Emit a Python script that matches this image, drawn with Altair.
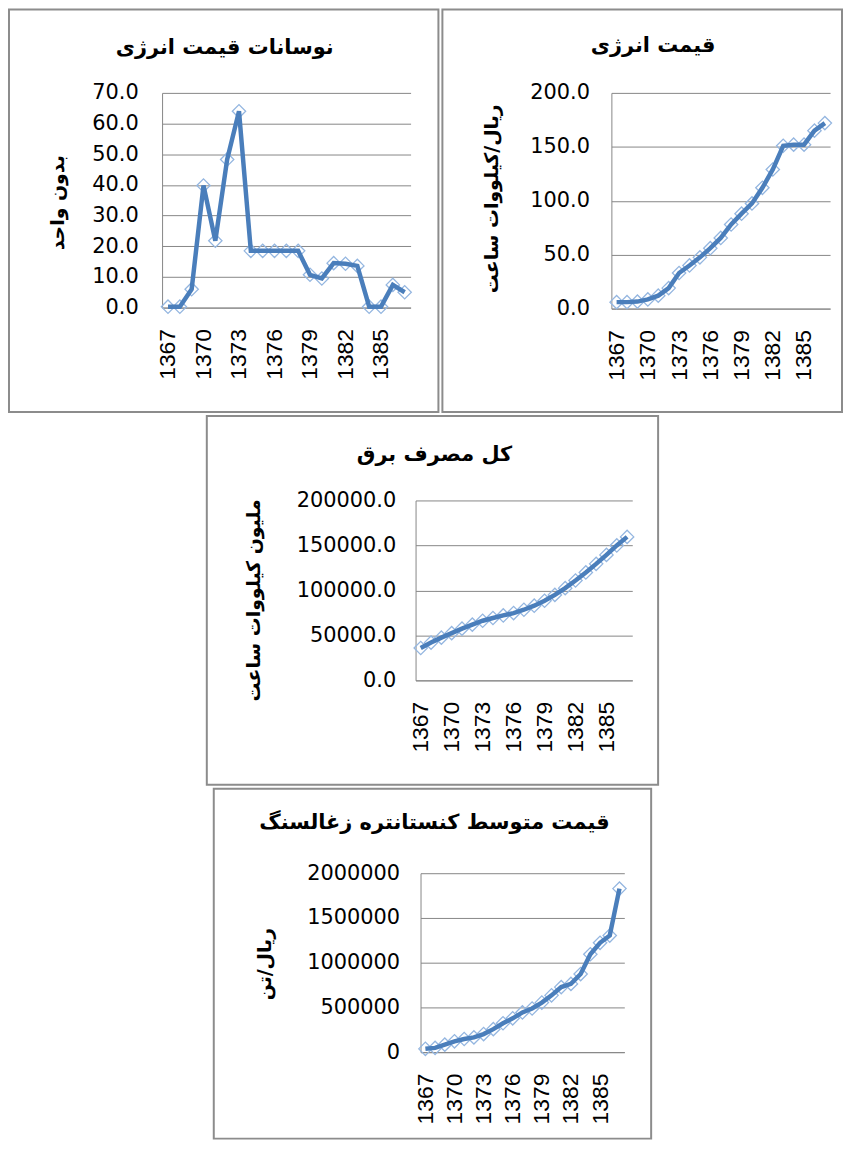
import altair as alt
import pandas as pd

years = list(range(1367, 1388))
year_ticks = [1367, 1370, 1373, 1376, 1379, 1382, 1385]

# نوسانات قیمت انرژی (بدون واحد)
fluctuation = [0.3, 0.3, 6.0, 39.8, 21.8, 48.3, 64.0, 18.5, 18.5, 18.5, 18.5,
               18.5, 10.7, 9.5, 14.5, 14.3, 13.6, 0.3, 0.3, 7.4, 5.0]
# قیمت انرژی (ریال/کیلووات ساعت)
energy_price = [6, 6, 6.5, 8.5, 12, 19, 33, 40, 47.5, 56, 65.5, 78, 88, 97.5,
                112, 129, 151, 152, 152, 165, 172]
# کل مصرف برق (میلیون کیلووات ساعت)
consumption = [36000, 42000, 47500, 52500, 57500, 62000, 66300, 69300, 72200,
               74800, 78500, 83000, 88500, 95000, 102500, 111000, 120000,
               129500, 139500, 150000, 159500]
# قیمت متوسط کنستانتره زغالسنگ (ریال/تن)
coal_price = [37000, 48000, 84000, 121000, 147000, 165000, 202000, 257000,
              323000, 378000, 444000, 488000, 554000, 635000, 727000, 763000,
              873000, 1094000, 1222000, 1303000, 1828000]

LINE = "#4A7EBB"
MARK = "#94B6E0"
GRID = "#868686"
BORDER = "#8C8C8C"
NUMFONT = "Liberation Sans"
YFONT = "DejaVu Sans"
FAFONT = "DejaVu Sans"


def panel(values, title, ytitle, ymax, ystep, yfmt, W, H, plot, title_y,
          title_dx, ytitle_xy, ylabel_pad):
    left, right, top, bottom = plot
    df = pd.DataFrame({"year": years, "value": values})
    x = alt.X(
        "year:O",
        scale=alt.Scale(type="point", padding=0.5, range=[left, right]),
        axis=alt.Axis(
            values=year_ticks, labelAngle=-90, offset=bottom - H, title=None,
            grid=False, ticks=False, labelFont=NUMFONT, labelFontSize=23,
            labelColor="black", labelPadding=21, labelOverlap=False,
            domainColor=GRID, domainWidth=1,
        ),
    )
    y = alt.Y(
        "value:Q",
        scale=alt.Scale(domain=[0, ymax], range=[bottom, top], nice=False),
        axis=alt.Axis(
            values=list(range(0, ymax + 1, ystep)), format=yfmt, offset=-left,
            grid=True, gridColor=GRID, gridWidth=1, ticks=False,
            domainColor=GRID, domainWidth=1, labelFont=YFONT,
            labelFontSize=21, labelColor="black", labelPadding=ylabel_pad,
            title=ytitle, titleFont=FAFONT, titleFontSize=19,
            titleFontWeight="bold", titleColor="black", titleAngle=-90,
            titleX=ytitle_xy[0] - left, titleY=ytitle_xy[1],
            titleAlign="center", titleBaseline="middle",
        ),
    )
    base = alt.Chart(df)
    pts = base.mark_point(shape="diamond", size=180, filled=False,
                          color=MARK, strokeWidth=1.3, opacity=1).encode(x=x, y=y)
    line = base.mark_line(color=LINE, strokeWidth=4.5).encode(x=x, y=y)
    return alt.layer(pts, line).properties(
        width=W, height=H,
        title=alt.TitleParams(
            text=title, font=FAFONT, fontSize=21, fontWeight="bold",
            color="black", anchor="middle", baseline="middle",
            offset=-(title_y + 1), dx=title_dx,
        ),
        view=alt.ViewBackground(stroke=BORDER, strokeWidth=2, fill="white"),
    )


def spacer(w, h):
    return alt.Chart(pd.DataFrame({"a": [0]})).mark_point(
        opacity=0, size=0
    ).encode(
        x=alt.value(1), y=alt.value(1)
    ).properties(width=w, height=h, view=alt.ViewBackground(stroke=None))


p1 = panel(fluctuation, "نوسانات قیمت انرژی", "بدون واحد", 70, 10, ".1f",
           432, 405, (154, 404, 84, 300), 59, 1, (48.5, 194), 24)
p2 = panel(energy_price, "قیمت انرژی", "ریال/کیلووات ساعت", 200, 50, ".1f",
           402, 405, (170, 390, 84, 301), 57, 11, (49, 190), 22)
p3 = panel(consumption, "کل مصرف برق", "ملیون کیلووات ساعت", 200000, 50000,
           ".1f", 454, 371, (210, 428, 85, 266), 59, 2, (47, 185), 20)
p4 = panel(coal_price, "قیمت متوسط کنستانتره زغالسنگ", "ریال/تن", 2000000,
           500000, "d", 440, 352, (208, 413, 85, 265), 55, 2, (51, 176), 21)

row1 = alt.hconcat(spacer(1, 405), p1, spacer(2, 405), p2, spacing=0)
row2 = alt.hconcat(spacer(200, 371), p3, spacing=0)
row3 = alt.hconcat(spacer(207, 352), p4, spacing=0)

chart = alt.vconcat(row1, row2, row3, spacing=2).properties(
    padding={"left": -1, "top": -3, "right": 0, "bottom": 0},
    background="white",
)

chart.save("out.html", embed_options={"renderer": "svg", "actions": False})
